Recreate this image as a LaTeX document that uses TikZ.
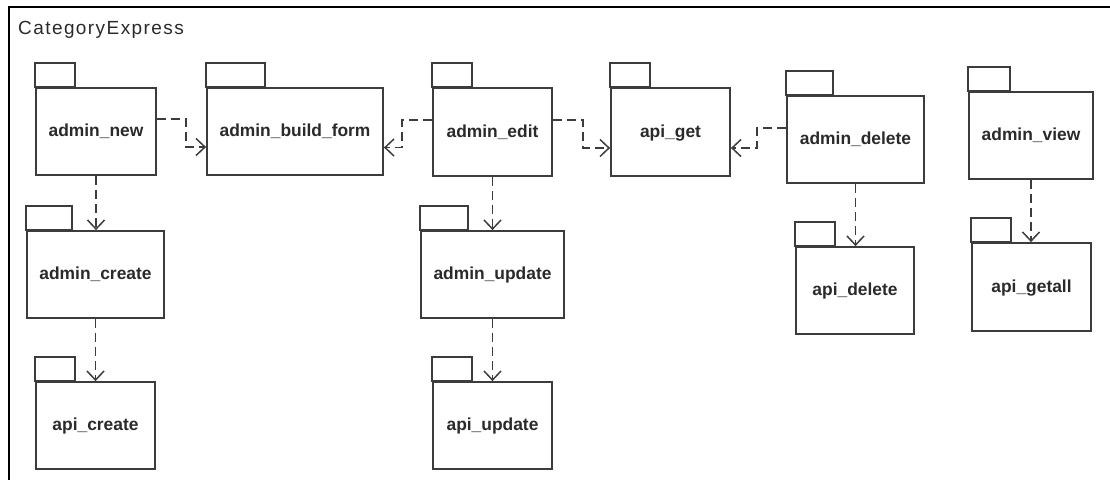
\documentclass[tikz,border=0pt]{standalone}
\usepackage{fontspec}
\setmainfont{Liberation Sans}
\usetikzlibrary{arrows.meta}
\definecolor{pkgline}{HTML}{3C3C3C}
\definecolor{pkgtext}{HTML}{2A2A2A}
\tikzstyle{package}=[draw=pkgline, line width=1.8pt, fill=white, inner sep=0, minimum height=87pt, text height=13pt, text depth=3pt, text=pkgtext, font=\fontsize{17.4}{20}\selectfont\bfseries]
\tikzstyle{tab}=[draw=pkgline, line width=1.8pt]
\tikzstyle{dependency}=[draw=pkgline, line width=1.6pt, dash pattern=on 9pt off 5pt, -{Straight Barb[length=9pt, width=17pt, line width=1.5pt]}]
\tikzstyle{frame}=[line width=2.8pt, line cap=rect]

\begin{document}
\begin{tikzpicture}[x=1pt, y=-1pt]
      \useasboundingbox (0,0) rectangle (1110,479);
      \draw[frame] (9,479) -- (9,7) -- (1110,7);
      \node[anchor=base west, inner sep=0, text=pkgtext, font=\fontsize{19}{22}\selectfont\addfontfeatures{LetterSpace=7.5}] (title) at (18,34.5) {CategoryExpress};

      % top row
      \node[package, minimum width=120pt] (admin_new) at (96, 131.5) {admin\_new};
      \node[package, minimum width=176pt] (admin_build_form) at (295, 131.5) {admin\_build\_form};
      \node[package, minimum width=119pt, minimum height=88pt] (admin_edit) at (492.5, 132) {admin\_edit};
      \node[package, minimum width=119pt, minimum height=88pt] (api_get) at (670.5, 132) {api\_get};
      \node[package, minimum width=137pt] (admin_delete) at (855.5, 139.5) {admin\_delete};
      \node[package, minimum width=124pt] (admin_view) at (1031, 135.5) {admin\_view};

      % middle row
      \node[package, minimum width=137pt] (admin_create) at (95.5, 274.5) {admin\_create};
      \node[package, minimum width=143pt] (admin_update) at (492.5, 274.5) {admin\_update};
      \node[package, minimum width=118pt] (api_delete) at (855, 290.5) {api\_delete};
      \node[package, minimum width=119pt, minimum height=88pt] (api_getall) at (1031.5, 287) {api\_getall};

      % bottom row
      \node[package, minimum width=119pt] (api_create) at (95.5, 425.5) {api\_create};
      \node[package, minimum width=119pt] (api_update) at (492.5, 425.5) {api\_update};

      % tabs
      \draw[tab] (admin_new.north west) rectangle ++(40,-24);
      \draw[tab] (admin_build_form.north west) rectangle ++(59,-24);
      \draw[tab] (admin_edit.north west) rectangle ++(40,-24);
      \draw[tab] (api_get.north west) rectangle ++(40,-24);
      \draw[tab] (admin_delete.north west) rectangle ++(47,-24);
      \draw[tab] (admin_view.north west) rectangle ++(42,-24);
      \draw[tab] (admin_create.north west) rectangle ++(46,-24);
      \draw[tab] (admin_update.north west) rectangle ++(48,-24);
      \draw[tab] (api_delete.north west) rectangle ++(40,-24);
      \draw[tab] (api_getall.north west) rectangle ++(40,-24);
      \draw[tab] (api_create.north west) rectangle ++(40,-24);
      \draw[tab] (api_update.north west) rectangle ++(40,-24);

      % dependencies
      \draw[dependency] ([yshift=12.5pt]admin_new.east) -- ++(29,0) |- ([yshift=-15.5pt]admin_build_form.west);
      \draw[dependency] ([yshift=12pt]admin_edit.west) -- ++(-30,0) |- ([yshift=-16pt]admin_build_form.east);
      \draw[dependency] ([yshift=12pt]admin_edit.east) -- ++(30,0) |- ([yshift=-16pt]api_get.west);
      \draw[dependency] ([yshift=11.5pt]admin_delete.west) -- ++(-29,0) |- ([yshift=-16pt]api_get.east);
      \draw[dependency] (admin_new.south) -- (admin_new.south |- admin_create.north);
      \draw[dependency] (admin_create.south) -- (admin_create.south |- api_create.north);
      \draw[dependency] (admin_edit.south) -- (admin_edit.south |- admin_update.north);
      \draw[dependency] (admin_update.south) -- (admin_update.south |- api_update.north);
      \draw[dependency] (admin_delete.south) -- (admin_delete.south |- api_delete.north);
      \draw[dependency] (admin_view.south) -- (admin_view.south |- api_getall.north);
    \end{tikzpicture}
\end{document}
